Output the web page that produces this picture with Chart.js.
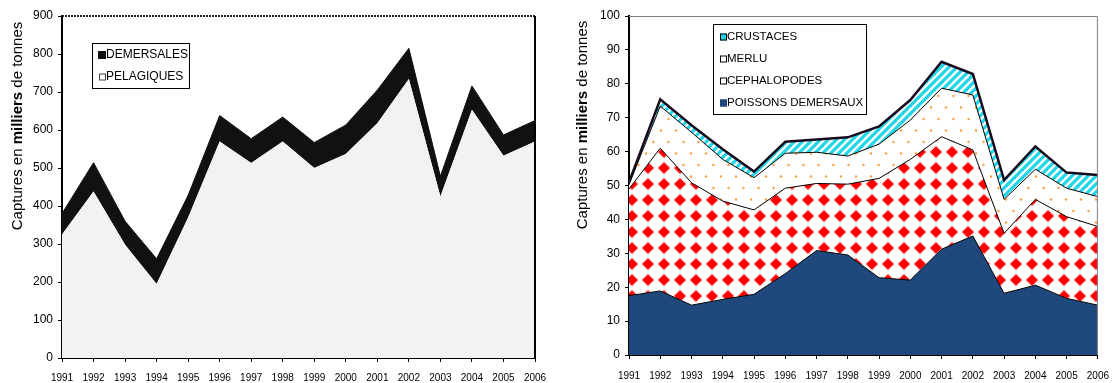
<!DOCTYPE html>
<html>
<head>
<meta charset="utf-8">
<script src="https://cdn.jsdelivr.net/npm/chart.js@4"></script>
<style>
  body { margin: 0; background: #fff; }
  .box { position: absolute; top: 0; width: 560px; height: 383px; }
  #left { left: 0; }
  #right { left: 560px; }
</style>
</head>
<body>
<div class="box" id="left"><canvas id="chartLeft" width="560" height="383"></canvas></div>
<div class="box" id="right"><canvas id="chartRight" width="560" height="383"></canvas></div>
<script>
// Years shared by both charts
const years = ['1991', '1992', '1993', '1994', '1995', '1996', '1997', '1998',
  '1999', '2000', '2001', '2002', '2003', '2004', '2005', '2006'];

// Left chart (milliers de tonnes)
const pelagiques = [325, 438, 298, 195, 370, 570, 513, 570, 500, 537, 618, 734, 425, 653, 532, 570];
const demersales = [55, 76, 62, 66, 58, 68, 64, 64, 67, 76, 87, 81, 53, 63, 55, 55];

// Right chart (milliers de tonnes)
const poissonsDemersaux = [17.5, 18.9, 14.7, 16.4, 17.9, 24.0, 30.8, 29.5, 22.8, 22.1, 31.2, 35.1, 18.2, 20.6, 16.7, 14.7];
const cephalopodes = [31.5, 42.1, 36.1, 29.0, 24.9, 25.2, 19.8, 20.9, 29.3, 35.6, 33.2, 25.4, 17.7, 25.3, 24.1, 23.2];
const merlu = [1.2, 12.4, 14.9, 12.3, 9.5, 10.3, 9.2, 8.3, 10.1, 11.6, 14.3, 16.2, 10.0, 8.9, 8.4, 8.8];
const crustaces = [0.8, 2.0, 2.1, 3.0, 1.8, 3.4, 3.8, 5.5, 5.2, 5.9, 7.8, 6.2, 5.7, 6.7, 4.6, 6.4];

const FONT = 'Arial, "Liberation Sans", sans-serif';

// --- fill patterns ---
function makePattern(w, h, draw) {
  const c = document.createElement('canvas');
  c.width = w; c.height = h;
  const g = c.getContext('2d');
  g.fillStyle = '#fff';
  g.fillRect(0, 0, w, h);
  draw(g, w, h);
  return document.getElementById('chartRight').getContext('2d').createPattern(c, 'repeat');
}

function diamond(g, cx, cy, r) {
  g.beginPath();
  g.moveTo(cx, cy - r); g.lineTo(cx + r, cy); g.lineTo(cx, cy + r); g.lineTo(cx - r, cy);
  g.closePath();
  g.fill();
}

const diamonds = makePattern(16, 16, (g) => {
  g.fillStyle = '#ffb0b0';
  diamond(g, 8, 8, 6.8);
  g.fillStyle = '#ff0000';
  diamond(g, 8, 8, 5.6);
});

const dots = makePattern(15, 23, (g) => {
  g.fillStyle = '#f8a040';
  g.beginPath(); g.arc(3.5, 4, 1.2, 0, Math.PI * 2); g.fill();
  g.beginPath(); g.arc(11, 15.5, 1.2, 0, Math.PI * 2); g.fill();
});

const stripes = makePattern(8, 8, (g, s) => {
  g.strokeStyle = '#1fd6e6';
  g.lineWidth = 3.2;
  [[-s, s * 2, s * 2, -s], [-s, s, s, -s], [0, s * 2, s * 2, 0]].forEach(([x1, y1, x2, y2]) => {
    g.beginPath(); g.moveTo(x1, y1); g.lineTo(x2, y2); g.stroke();
  });
});

// --- drawing helpers used by the plugins ---
function drawYTitle(ctx, x, yCenter) {
  const parts = [['Captures en ', 'normal'], ['milliers', 'bold'], [' de tonnes', 'normal']];
  ctx.save();
  ctx.translate(x, yCenter);
  ctx.rotate(-Math.PI / 2);
  ctx.fillStyle = '#000';
  ctx.textBaseline = 'middle';
  ctx.textAlign = 'left';
  let total = 0;
  parts.forEach(([t, w]) => { ctx.font = w + ' 15px ' + FONT; total += ctx.measureText(t).width; });
  let cx = -total / 2;
  parts.forEach(([t, w]) => {
    ctx.font = w + ' 15px ' + FONT;
    ctx.fillText(t, cx, 0);
    cx += ctx.measureText(t).width;
  });
  ctx.restore();
}

function drawLegend(ctx, box, items, fontSize) {
  ctx.save();
  ctx.fillStyle = '#fff';
  ctx.fillRect(box.x, box.y, box.w, box.h);
  ctx.strokeStyle = '#000';
  ctx.lineWidth = 1;
  ctx.strokeRect(box.x + 0.5, box.y + 0.5, box.w, box.h);
  ctx.font = fontSize + 'px ' + FONT;
  ctx.textBaseline = 'middle';
  ctx.textAlign = 'left';
  items.forEach(it => {
    const m = it.size;
    ctx.fillStyle = it.fill;
    ctx.fillRect(it.mx, it.y - m / 2, m, m);
    ctx.strokeStyle = it.stroke;
    ctx.lineWidth = 1;
    ctx.strokeRect(it.mx + 0.5, it.y - m / 2 + 0.5, m - 1, m - 1);
    ctx.fillStyle = '#000';
    ctx.fillText(it.label, it.tx, it.y);
  });
  ctx.restore();
}

const leftDecor = {
  id: 'leftDecor',
  afterDraw(chart) {
    const { ctx, chartArea: a } = chart;
    ctx.save();
    // dotted top border, solid right border
    ctx.strokeStyle = '#222';
    ctx.lineWidth = 2;
    ctx.setLineDash([2, 1]);
    ctx.beginPath(); ctx.moveTo(a.left, a.top); ctx.lineTo(a.right, a.top); ctx.stroke();
    ctx.setLineDash([]);
    ctx.strokeStyle = '#000';
    ctx.beginPath(); ctx.moveTo(a.right, a.top); ctx.lineTo(a.right, a.bottom); ctx.stroke();
    ctx.restore();
    drawYTitle(ctx, 18, 126);
    drawLegend(ctx, { x: 92, y: 43, w: 97, h: 45 }, [
      { label: 'DEMERSALES', y: 55, mx: 98, tx: 106, size: 8, fill: '#111', stroke: '#111' },
      { label: 'PELAGIQUES', y: 77, mx: 99, tx: 106, size: 7, fill: '#fff', stroke: '#444' }
    ], 12);
  }
};

const rightDecor = {
  id: 'rightDecor',
  afterDraw(chart) {
    const { ctx, chartArea: a } = chart;
    ctx.save();
    ctx.strokeStyle = '#808080';
    ctx.lineWidth = 1;
    ctx.beginPath();
    ctx.moveTo(a.left, a.top + 0.5); ctx.lineTo(a.right - 0.5, a.top + 0.5); ctx.lineTo(a.right - 0.5, a.bottom);
    ctx.stroke();
    ctx.restore();
    drawYTitle(ctx, 23, 125);
    drawLegend(ctx, { x: 153, y: 24, w: 153, h: 90 }, [
      { label: 'CRUSTACES', y: 37, mx: 160, tx: 167, size: 7, fill: '#1fd6e6', stroke: '#000' },
      { label: 'MERLU', y: 59, mx: 160, tx: 167, size: 7, fill: '#fff', stroke: '#000' },
      { label: 'CEPHALOPODES', y: 81, mx: 160, tx: 167, size: 7, fill: '#fff', stroke: '#000' },
      { label: 'POISSONS DEMERSAUX', y: 103, mx: 160, tx: 167, size: 7, fill: '#1f497d', stroke: '#1f497d' }
    ], 11.5);
  }
};

function axes(yMax, yStep, yWidth, xHeight, xPad) {
  return {
    x: {
      offset: false,
      grid: { drawOnChartArea: false, drawTicks: true, tickLength: 4, color: '#000' },
      border: { display: true, color: '#000', width: 2 },
      ticks: { color: '#000', font: { family: FONT, size: 10 }, padding: xPad, maxRotation: 0, autoSkip: false },
      afterFit(scale) { scale.height = xHeight; }
    },
    y: {
      stacked: true,
      min: 0, max: yMax,
      grid: { drawOnChartArea: false, drawTicks: true, tickLength: 4, color: '#000' },
      border: { display: true, color: '#000', width: 2 },
      ticks: { stepSize: yStep, color: '#000', font: { family: FONT, size: 12 }, padding: 5 },
      afterFit(scale) { scale.width = yWidth; }
    }
  };
}

const common = {
  responsive: false,
  animation: false,
  devicePixelRatio: 1,
  elements: { point: { radius: 0 }, line: { tension: 0 } },
  plugins: { legend: { display: false }, tooltip: { enabled: false } }
};

new Chart(document.getElementById('chartLeft'), {
  type: 'line',
  data: {
    labels: years,
    datasets: [
      { label: 'PELAGIQUES', data: pelagiques, fill: 'origin', backgroundColor: '#f2f2f2', borderColor: '#f2f2f2', borderWidth: 0 },
      { label: 'DEMERSALES', data: demersales, fill: '-1', backgroundColor: '#111', borderColor: '#111', borderWidth: 1 }
    ]
  },
  options: Object.assign({}, common, {
    layout: { padding: { left: 0, top: 16, right: 25, bottom: 0 } },
    scales: axes(900, 100, 62, 25, 10)
  }),
  plugins: [leftDecor]
});

new Chart(document.getElementById('chartRight'), {
  type: 'line',
  data: {
    labels: years,
    datasets: [
      { label: 'POISSONS DEMERSAUX', data: poissonsDemersaux, fill: 'origin', backgroundColor: '#1f497d', borderColor: '#000', borderWidth: 1 },
      { label: 'CEPHALOPODES', data: cephalopodes, fill: '-1', backgroundColor: diamonds, borderColor: '#000', borderWidth: 1 },
      { label: 'MERLU', data: merlu, fill: '-1', backgroundColor: dots, borderColor: '#000', borderWidth: 1 },
      { label: 'CRUSTACES', data: crustaces, fill: '-1', backgroundColor: stripes, borderColor: '#1a0a1e', borderWidth: 2.5 }
    ]
  },
  options: Object.assign({}, common, {
    layout: { padding: { left: 0, top: 16, right: 13, bottom: 0 } },
    scales: axes(100, 10, 69, 28, 11)
  }),
  plugins: [rightDecor]
});
</script>
</body>
</html>
